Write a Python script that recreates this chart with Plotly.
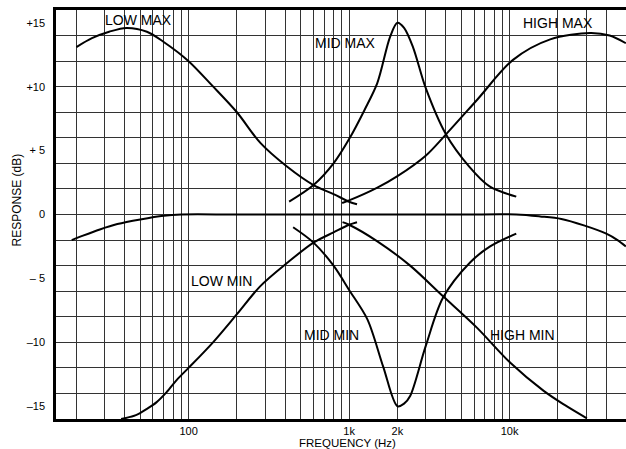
import math
import plotly.graph_objects as go

# ---------------- data ----------------
low_max_f = [20, 25, 32, 41, 55, 70, 100, 140, 200, 280, 410, 600, 800, 1000, 1120]
low_max_db = [13.1, 13.8, 14.3, 14.6, 14.3, 13.5, 12.0, 10.1, 8.0, 5.6, 3.75, 2.3, 1.6, 1.0, 0.8]

mid_max_f = [423, 600, 800, 1000, 1250, 1500, 1800, 2000, 2200, 2500, 3000, 4000, 5600, 7500, 11000]
mid_max_db = [1.0, 2.3, 4.0, 5.9, 8.2, 10.3, 13.9, 15.0, 14.6, 13.1, 9.9, 6.3, 3.75, 2.2, 1.4]

high_max_f = [905, 1000, 1500, 2000, 3000, 4000, 6300, 10500, 17900, 31800, 42000, 53000]
high_max_db = [0.9, 1.1, 2.1, 3.0, 4.6, 6.25, 9.0, 12.1, 13.7, 14.2, 14.0, 13.4]

low_min_f = [38, 47, 55, 63, 73, 85, 100, 142, 200, 280, 410, 600, 800, 1000, 1120]
low_min_db = [-16.0, -15.7, -15.2, -14.7, -13.9, -12.9, -12.0, -10.0, -7.8, -5.6, -3.8, -2.2, -1.4, -0.8, -0.6]

mid_min_f = [448, 600, 800, 1000, 1300, 1630, 2000, 2200, 2400, 3000, 3850, 5670, 7560, 11000]
mid_min_db = [-1.0, -2.2, -4.0, -5.9, -8.2, -11.9, -15.0, -14.8, -14.2, -10.3, -6.5, -3.75, -2.5, -1.5]

high_min_f = [910, 1000, 1500, 2400, 3850, 6250, 10100, 16300, 22000, 30300]
high_min_db = [-0.6, -0.8, -2.1, -4.0, -6.4, -8.85, -11.6, -13.8, -14.9, -15.95]

flat_f = [18.7, 22, 28, 36, 50, 70, 90, 200, 1000, 5000, 11000, 15500, 21000, 29000, 40000, 47000, 53000]
flat_db = [-2.0, -1.65, -1.17, -0.75, -0.39, -0.1, 0, 0, 0, 0, 0, -0.15, -0.35, -0.85, -1.5, -2.0, -2.5]

label_texts = ["LOW MAX", "MID MAX", "HIGH MAX", "LOW MIN", "MID MIN", "HIGH MIN"]
label_freqs = [49, 944, 20000, 160, 772, 12000]
label_dbs = [15.2, 13.4, 15.0, -5.2, -9.4, -9.4]

x_grid_vals = ([20, 30, 40, 50, 60, 70, 80, 90]
               + [100, 200, 300, 400, 500, 600, 700, 800, 900]
               + [1000, 2000, 3000, 4000, 5000, 6000, 7000, 8000, 9000]
               + [10000, 20000, 30000, 40000])
x_label_map = {100: "100", 1000: "1k", 2000: "2k", 10000: "10k"}
x_tick_text = [x_label_map.get(v, "") for v in x_grid_vals]

y_tick_vals = [15, 10, 5, 0, -5, -10, -15]
y_tick_text = ["+15", "+10", "+ 5", "0", "– 5", "–10", "–15"]
y_grid_vals = list(range(-16, 17, 2))

# ---------------- figure ----------------
FONT = "Liberation Sans, Arial, Helvetica, sans-serif"
fig = go.Figure()

curves = [
    (flat_f, flat_db), (low_max_f, low_max_db), (mid_max_f, mid_max_db),
    (high_max_f, high_max_db), (low_min_f, low_min_db), (mid_min_f, mid_min_db),
    (high_min_f, high_min_db),
]
for fx, dbs in curves:
    fig.add_trace(go.Scatter(
        x=fx, y=dbs, mode="lines",
        line=dict(color="black", width=2, shape="spline", smoothing=0.9),
        showlegend=False, hoverinfo="skip", cliponaxis=False,
    ))

for t, fx, db in zip(label_texts, label_freqs, label_dbs):
    fig.add_annotation(
        x=math.log10(fx), y=db, xref="x", yref="y", text=t, showarrow=False,
        font=dict(family=FONT, size=14, color="black"),
        xanchor="center", yanchor="middle",
    )

grid_color = "#333333"
fig.update_xaxes(
    type="log",
    range=[1.174, 4.725],
    tickmode="array", tickvals=x_grid_vals, ticktext=x_tick_text,
    ticks="", ticklen=0, showgrid=True, gridcolor=grid_color, gridwidth=1,
    showline=True, linecolor="black", linewidth=2.5, mirror=True,
    tickfont=dict(family=FONT, size=11, color="black"),
    zeroline=False,
)
fig.update_yaxes(
    range=[-16, 16],
    tickmode="array", tickvals=y_tick_vals, ticktext=y_tick_text,
    ticks="", showgrid=False,
    minor=dict(tickmode="array", tickvals=y_grid_vals, showgrid=True,
               gridcolor=grid_color, gridwidth=1, ticks=""),
    showline=True, linecolor="black", linewidth=2.5, mirror=False,
    tickfont=dict(family=FONT, size=11, color="black"),
    ticklabelstandoff=6,
    zeroline=False,
)
fig.add_annotation(
    x=-0.068, y=0.535, xref="paper", yref="paper", text="RESPONSE (dB)",
    textangle=-90, showarrow=False,
    font=dict(family=FONT, size=12, color="black"),
    xanchor="center", yanchor="middle",
)
fig.add_annotation(
    x=0.512, y=-0.058, xref="paper", yref="paper", text="FREQUENCY (Hz)",
    showarrow=False,
    font=dict(family=FONT, size=11.5, color="black"),
    xanchor="center", yanchor="middle",
)
fig.update_layout(
    width=626, height=449,
    margin=dict(l=56, r=0, t=10, b=30),
    paper_bgcolor="white", plot_bgcolor="white",
    font=dict(family=FONT, color="black"),
)
fig.write_html(
    "out.html",
    config={"displayModeBar": False},
    post_script="document.body.style.margin='0';document.body.style.padding='0';document.body.style.overflow='hidden';",
)
